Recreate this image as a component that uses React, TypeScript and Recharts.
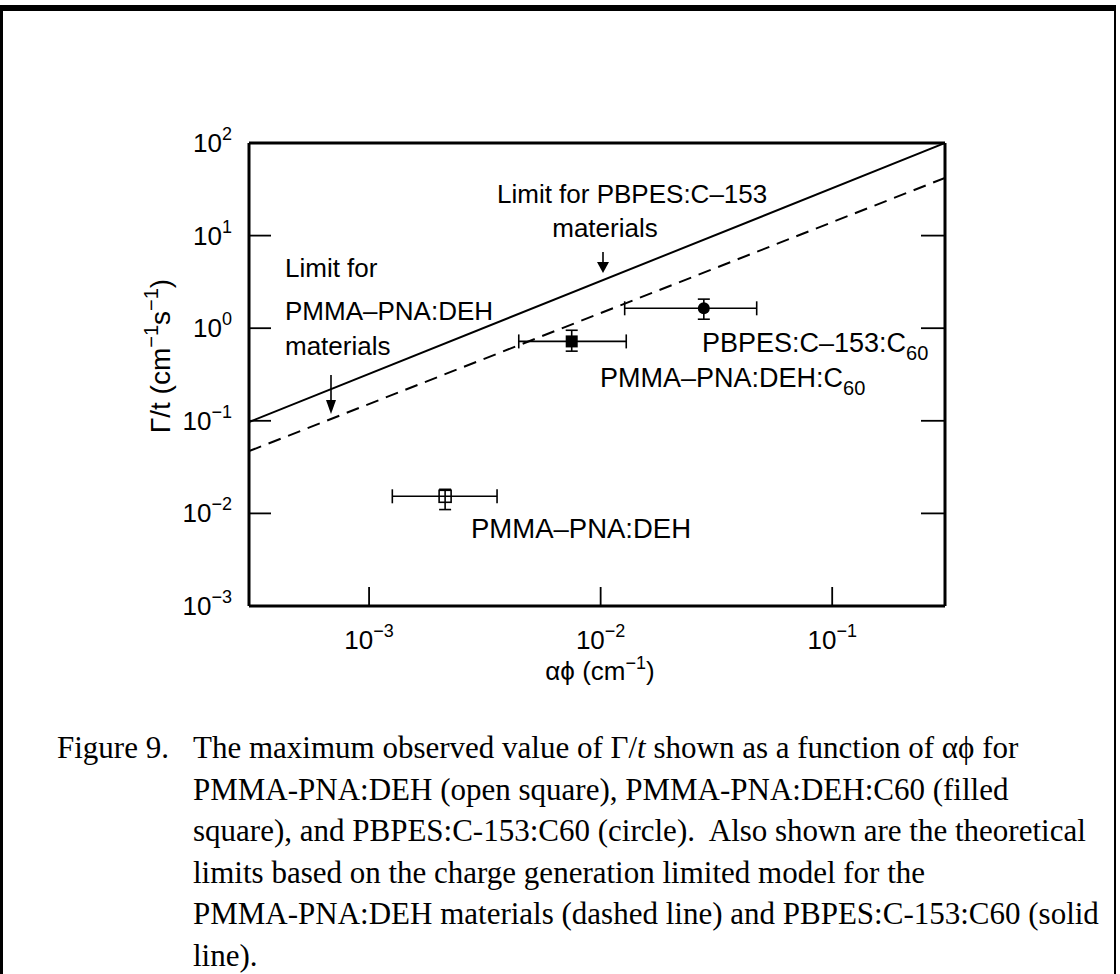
import React from 'react';
import { ComposedChart, Scatter, XAxis, YAxis, ErrorBar } from 'recharts';

const SANS = '"Liberation Sans", Arial, Helvetica, sans-serif';
const SERIF = '"Liberation Serif", "Times New Roman", serif';

// measured maxima: alphaPhi (cm^-1) vs Gamma/t (cm^-1 s^-1)
const sampleNames = ['PMMA–PNA:DEH', 'PMMA–PNA:DEH:C60', 'PBPES:C–153:C60'];
const alphaPhi = [0.00213, 0.0075, 0.0279];
const alphaPhiLow = [0.00126, 0.00443, 0.0127];
const alphaPhiHigh = [0.00357, 0.0129, 0.0472];
const gammaT = [0.0153, 0.72, 1.64];
const gammaTLow = [0.011, 0.565, 1.25];
const gammaTHigh = [0.0182, 0.95, 2.06];

// theoretical limits (end points of the straight lines)
const limitX = [0.000303, 0.307];
const limitPBPES = [0.097, 100];
const limitPMMA = [0.047, 42];

const xTicks = [0.001, 0.01, 0.1];
const yTicks = [0.001, 0.01, 0.1, 1, 10, 100];
const xDomain = [0.000303, 0.307];
const yDomain = [0.001, 100];

const points = sampleNames.map((name, i) => ({
  name,
  x: alphaPhi[i],
  y: gammaT[i],
  xErr: [alphaPhi[i] - alphaPhiLow[i], alphaPhiHigh[i] - alphaPhi[i]],
  yErr: [gammaT[i] - gammaTLow[i], gammaTHigh[i] - gammaT[i]],
}));

const solidLine = limitX.map((x, i) => ({ x, y: limitPBPES[i] }));
const dashedLine = limitX.map((x, i) => ({ x, y: limitPMMA[i] }));

const expOf = (v: number) => {
  const e = Math.round(Math.log10(v));
  return e < 0 ? '−' + Math.abs(e) : String(e);
};

const BottomTick = ({ x, y, payload }: any) => (
  <g>
    <line x1={x} x2={x} y1={y} y2={y - 19} stroke="#000" strokeWidth={1.8} />
    <text x={x} y={y + 43} textAnchor="middle" fontFamily={SANS} fontSize={26} fill="#000">
      10<tspan dy={-12} fontSize={18}>{expOf(payload.value)}</tspan>
    </text>
  </g>
);

const LeftTick = ({ x, y, payload }: any) => {
  const edge = payload.value === yDomain[0] || payload.value === yDomain[1];
  return (
    <g>
      {!edge && <line x1={x} x2={x + 22} y1={y} y2={y} stroke="#000" strokeWidth={1.8} />}
      <text x={x - 17} y={y + 9} textAnchor="end" fontFamily={SANS} fontSize={26} fill="#000">
        10<tspan dy={-12} fontSize={18}>{expOf(payload.value)}</tspan>
      </text>
    </g>
  );
};

const RightTick = ({ x, y, payload }: any) => {
  const edge = payload.value === yDomain[0] || payload.value === yDomain[1];
  if (edge) return <g />;
  return <line x1={x} x2={x - 24} y1={y} y2={y} stroke="#000" strokeWidth={1.8} />;
};

const OpenSquare = (p: any) => (
  <rect x={p.cx - 6} y={p.cy - 6} width={12} height={12} fill="none" stroke="#000" strokeWidth={1.6} />
);
const FilledSquare = (p: any) => (
  <rect x={p.cx - 6} y={p.cy - 6} width={12} height={12} fill="#000" />
);
const Dot = (p: any) => <circle cx={p.cx} cy={p.cy} r={6} fill="#000" />;
const NoShape = () => <g />;

const errBars = [
  <ErrorBar key="ex" dataKey="xErr" direction="x" width={7} stroke="#000" strokeWidth={1.6} />,
  <ErrorBar key="ey" dataKey="yErr" direction="y" width={6} stroke="#000" strokeWidth={1.6} />,
];

const Annotations = () => (
  <svg width={1120} height={720} style={{ position: 'absolute', left: 0, top: 0, pointerEvents: 'none' }}>
    <g fontFamily={SANS} fontSize={26} fill="#000">
      <text x={497} y={203}>Limit for PBPES:C–153</text>
      <text x={605} y={237} textAnchor="middle">materials</text>
      <text x={285} y={277}>Limit for</text>
      <text x={285} y={320}>PMMA–PNA:DEH</text>
      <text x={285} y={355}>materials</text>
      <text x={702} y={352} fontSize={27}>
        PBPES:C–153:C<tspan dy={8} fontSize={20}>60</tspan>
      </text>
      <text x={600} y={387} fontSize={27}>
        PMMA–PNA:DEH:C<tspan dy={8} fontSize={20}>60</tspan>
      </text>
      <text x={471} y={538} fontSize={27.5}>PMMA–PNA:DEH</text>
      <text x={600} y={680} textAnchor="middle">
        αϕ (cm<tspan dy={-11} fontSize={18}>−1</tspan><tspan dy={11}>)</tspan>
      </text>
      <text x={170} y={356} textAnchor="middle" fontSize={28} transform="rotate(-90 170 356)">
        Γ/t (cm<tspan dy={-12} fontSize={20}>−1</tspan><tspan dy={12}>s</tspan>
        <tspan dy={-12} fontSize={20}>−1</tspan><tspan dy={12}>)</tspan>
      </text>
    </g>
    <g stroke="#000" strokeWidth={1.6}>
      <line x1={331} x2={331} y1={375} y2={404} />
      <line x1={603} x2={603} y1={252} y2={264} />
    </g>
    <path d="M326,400 L336,400 L331,414 Z" fill="#000" />
    <path d="M597,262 L609,262 L603,273 Z" fill="#000" />
  </svg>
);

const captionLines = [
  'PMMA-PNA:DEH (open square), PMMA-PNA:DEH:C60 (filled',
  'square), and PBPES:C-153:C60 (circle).  Also shown are the theoretical',
  'limits based on the charge generation limited model for the',
  'PMMA-PNA:DEH materials (dashed line) and PBPES:C-153:C60 (solid',
  'line).',
];

export default function App() {
  return (
    <div style={{ position: 'absolute', left: 0, top: 0, width: 1120, height: 974, background: '#fff', overflow: 'hidden' }}>
      <div
        style={{
          position: 'absolute', left: 0, top: 5, width: 1116, height: 980,
          borderTop: '6px solid #000', borderLeft: '3px solid #000', borderRight: '2px solid #000',
          boxSizing: 'border-box',
        }}
      />
      <div style={{ position: 'absolute', left: 0, top: 0 }}>
        <ComposedChart width={1120} height={720} margin={{ top: 123, right: 155, bottom: 54, left: 189 }}>
          <XAxis
            xAxisId="b" dataKey="x" type="number" scale="log" domain={xDomain} ticks={xTicks}
            allowDataOverflow orientation="bottom" height={60} tickSize={0} tickMargin={0}
            tickLine={false} axisLine={{ stroke: '#000', strokeWidth: 3 }} tick={<BottomTick />} interval={0}
          />
          <XAxis
            xAxisId="t" dataKey="x" type="number" scale="log" domain={xDomain} allowDataOverflow
            orientation="top" height={20} tick={false} tickLine={false} axisLine={{ stroke: '#000', strokeWidth: 3 }}
          />
          <YAxis
            yAxisId="l" dataKey="y" type="number" scale="log" domain={yDomain} ticks={yTicks}
            allowDataOverflow orientation="left" width={60} tickSize={0} tickMargin={0}
            tickLine={false} axisLine={{ stroke: '#000', strokeWidth: 3 }} tick={<LeftTick />} interval={0}
          />
          <YAxis
            yAxisId="r" dataKey="y" type="number" scale="log" domain={yDomain} ticks={yTicks}
            allowDataOverflow orientation="right" width={20} tickSize={0} tickMargin={0}
            tickLine={false} axisLine={{ stroke: '#000', strokeWidth: 3 }} tick={<RightTick />} interval={0}
          />
          <Scatter
            xAxisId="b" yAxisId="l" data={solidLine} line={{ stroke: '#000', strokeWidth: 2 }}
            lineType="joint" shape={<NoShape />} isAnimationActive={false}
          />
          <Scatter
            xAxisId="b" yAxisId="l" data={dashedLine}
            line={{ stroke: '#000', strokeWidth: 2, strokeDasharray: '13 8' }}
            lineType="joint" shape={<NoShape />} isAnimationActive={false}
          />
          <Scatter xAxisId="b" yAxisId="l" data={[points[0]]} shape={<OpenSquare />} isAnimationActive={false}>
            {errBars}
          </Scatter>
          <Scatter xAxisId="b" yAxisId="l" data={[points[1]]} shape={<FilledSquare />} isAnimationActive={false}>
            {errBars}
          </Scatter>
          <Scatter xAxisId="b" yAxisId="l" data={[points[2]]} shape={<Dot />} isAnimationActive={false}>
            {errBars}
          </Scatter>
        </ComposedChart>
        <Annotations />
      </div>
      <div style={{ position: 'absolute', left: 0, top: 0, fontFamily: SERIF, fontSize: 31, color: '#000', whiteSpace: 'pre', lineHeight: '32px' }}>
        <div style={{ position: 'absolute', left: 57, top: 732 }}>Figure 9.</div>
        <div style={{ position: 'absolute', left: 193, top: 732 }}>
          The maximum observed value of Γ/<i>t</i> shown as a function of αϕ for
        </div>
        {captionLines.map((line, i) => (
          <div key={i} style={{ position: 'absolute', left: 193, top: 732 + (i + 1) * 41.5 }}>{line}</div>
        ))}
      </div>
    </div>
  );
}
